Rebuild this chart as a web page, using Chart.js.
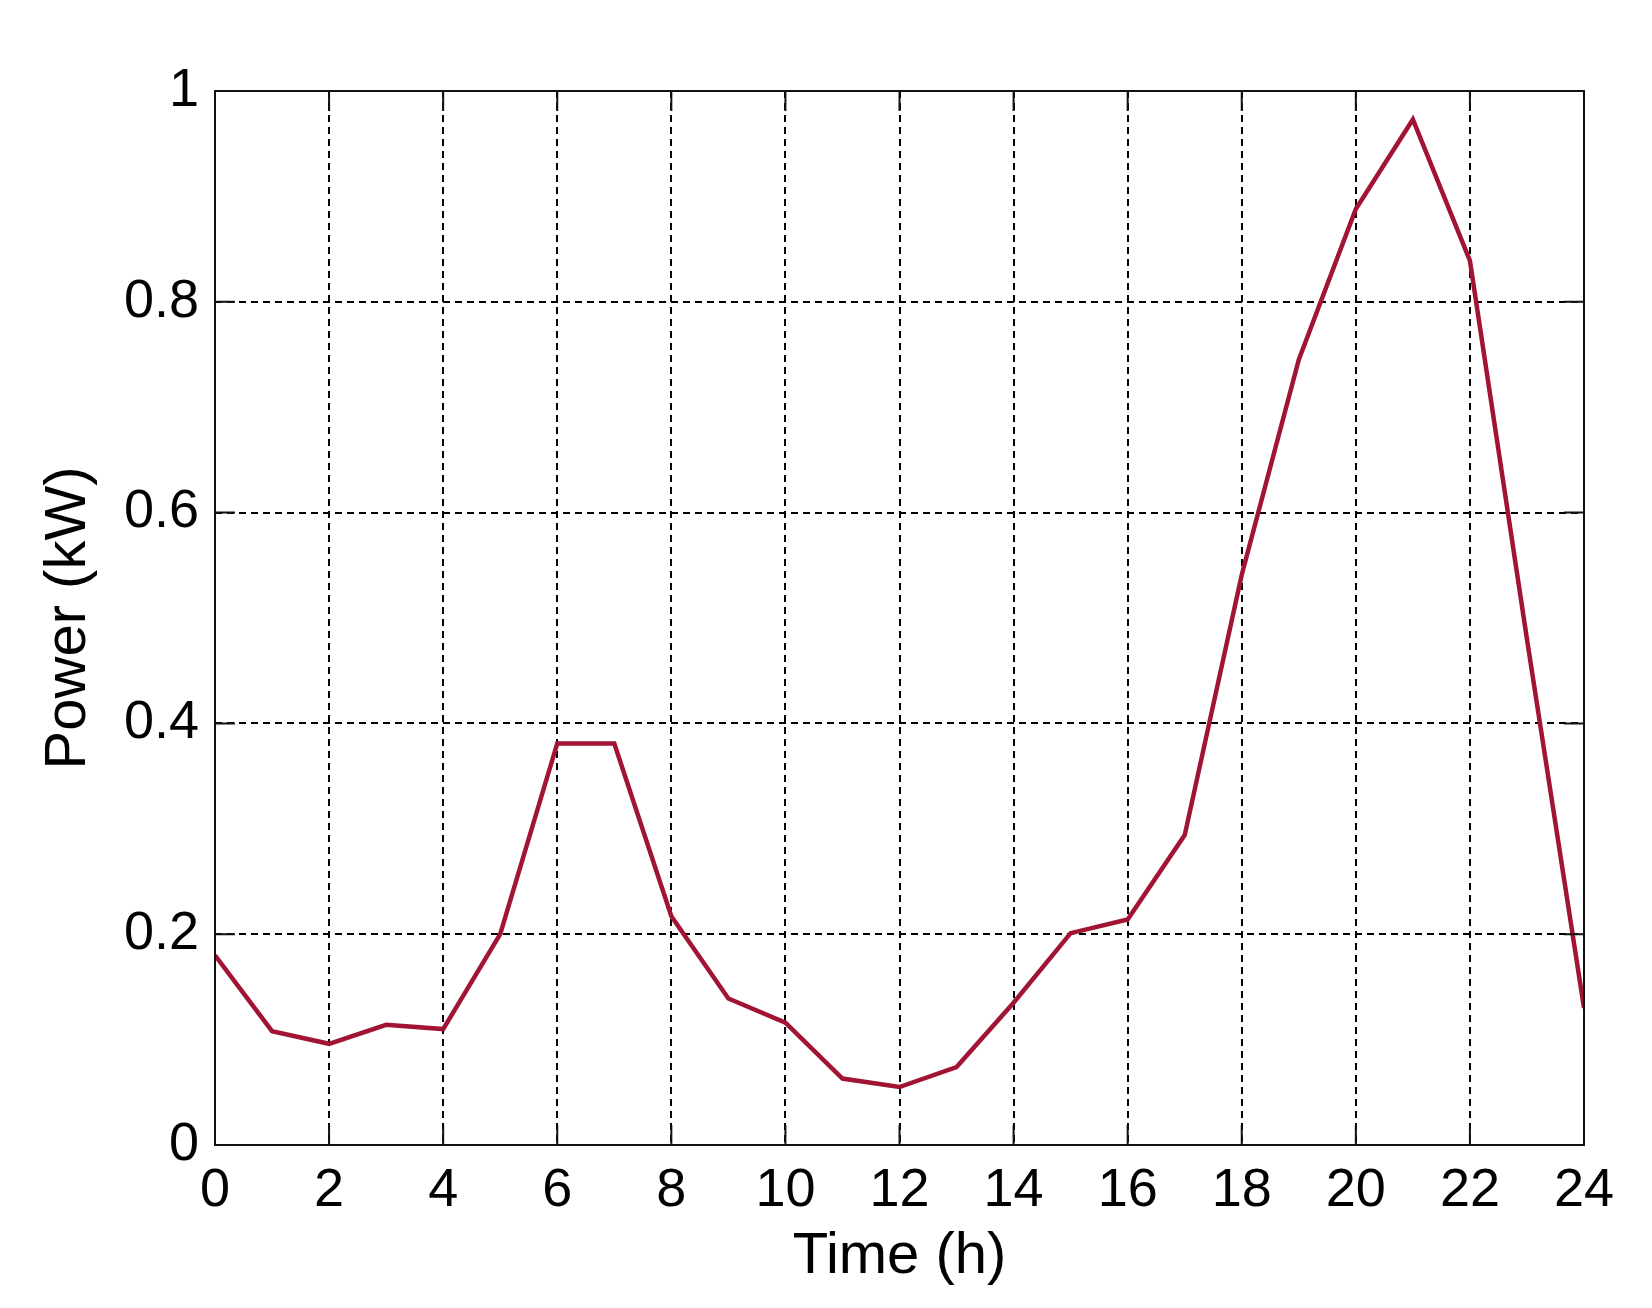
<!DOCTYPE html>
<html>
<head>
<meta charset="utf-8">
<title>Power profile</title>
<script src="https://cdn.jsdelivr.net/npm/chart.js@4.4.1/dist/chart.umd.min.js"></script>
<style>
    html, body { margin: 0; padding: 0; background: #fff; }
    #wrap { width: 1652px; height: 1308px; }
</style>
</head>
<body>
<div id="wrap"><canvas id="power-chart" width="1652" height="1308"></canvas></div>
<script>
    'use strict';

    // values
    var hours = [0, 1, 2, 3, 4, 5, 6, 7, 8, 9, 10, 11, 12, 13, 14, 15, 16, 17, 18, 19, 20, 21, 22, 23, 24];
    var power = [0.18, 0.108, 0.096, 0.114, 0.11, 0.20, 0.381, 0.381, 0.217, 0.139, 0.116, 0.063, 0.055, 0.074,
        0.135, 0.201, 0.214, 0.294, 0.541, 0.745, 0.888, 0.973, 0.839, 0.48, 0.13];
    var xTicks = [0, 2, 4, 6, 8, 10, 12, 14, 16, 18, 20, 22, 24];
    var yTicks = [0, 0.2, 0.4, 0.6, 0.8, 1];

    var fontFamily = "'Liberation Sans', Arial, sans-serif";
    var lineColor = '#a11434';

    var points = [];
    for (var i = 0; i < hours.length; i++) {
        points.push({x: hours[i], y: power[i]});
    }

    // MATLAB style box with inward ticks on all four sides
    var boxPlugin = {
        id: 'matlabBox',
        afterDraw: function (chart) {
            var ctx = chart.ctx;
            var area = chart.chartArea;
            var xs = chart.scales.x;
            var ys = chart.scales.y;
            var len = 20;
            ctx.save();
            ctx.strokeStyle = '#111';
            ctx.lineWidth = 2;
            ctx.setLineDash([]);
            ctx.beginPath();
            xTicks.forEach(function (t) {
                var px = xs.getPixelForValue(t);
                ctx.moveTo(px, area.bottom);
                ctx.lineTo(px, area.bottom - len);
                ctx.moveTo(px, area.top);
                ctx.lineTo(px, area.top + len);
            });
            yTicks.forEach(function (t) {
                var py = ys.getPixelForValue(t);
                ctx.moveTo(area.left, py);
                ctx.lineTo(area.left + len, py);
                ctx.moveTo(area.right, py);
                ctx.lineTo(area.right - len, py);
            });
            ctx.stroke();
            ctx.strokeRect(area.left, area.top, area.right - area.left, area.bottom - area.top);
            ctx.restore();
        }
    };

    var plainLabel = function (value) {
        return String(Math.round(value * 10) / 10);
    };

    var ctx = document.getElementById('power-chart').getContext('2d');
    window.powerChart = new Chart(ctx, {
        type: 'line',
        data: {
            datasets: [
                {
                    data: points,
                    borderColor: lineColor,
                    borderWidth: 4.5,
                    pointRadius: 0,
                    tension: 0,
                    fill: false
                }
            ]
        },
        options: {
            responsive: false,
            animation: false,
            layout: {
                padding: {left: 20, top: 91, right: 68, bottom: 0}
            },
            plugins: {
                legend: {display: false},
                tooltip: {enabled: false}
            },
            scales: {
                x: {
                    type: 'linear',
                    min: 0,
                    max: 24,
                    afterBuildTicks: function (scale) {
                        scale.ticks = xTicks.map(function (v) { return {value: v}; });
                    },
                    afterFit: function (scale) {
                        scale.height = 163;
                    },
                    ticks: {
                        color: '#000',
                        padding: 14,
                        maxRotation: 0,
                        autoSkip: false,
                        callback: plainLabel,
                        font: {family: fontFamily, size: 54}
                    },
                    grid: {
                        color: '#000',
                        lineWidth: 2,
                        drawTicks: false,
                        tickLength: 0
                    },
                    border: {display: false, dash: [7, 5]},
                    title: {
                        display: true,
                        text: 'Time (h)',
                        color: '#000',
                        font: {family: fontFamily, size: 58},
                        padding: {top: 0, bottom: 16}
                    }
                },
                y: {
                    min: 0,
                    max: 1,
                    afterBuildTicks: function (scale) {
                        scale.ticks = yTicks.map(function (v) { return {value: v}; });
                    },
                    afterFit: function (scale) {
                        scale.width = 195;
                    },
                    ticks: {
                        color: '#000',
                        padding: 16,
                        autoSkip: false,
                        callback: plainLabel,
                        font: {family: fontFamily, size: 54}
                    },
                    grid: {
                        color: '#000',
                        lineWidth: 2,
                        drawTicks: false,
                        tickLength: 0
                    },
                    border: {display: false, dash: [7, 5]},
                    title: {
                        display: true,
                        text: 'Power (kW)',
                        color: '#000',
                        font: {family: fontFamily, size: 58},
                        padding: {top: 14, bottom: 0}
                    }
                }
            }
        },
        plugins: [boxPlugin]
    });
</script>
</body>
</html>
